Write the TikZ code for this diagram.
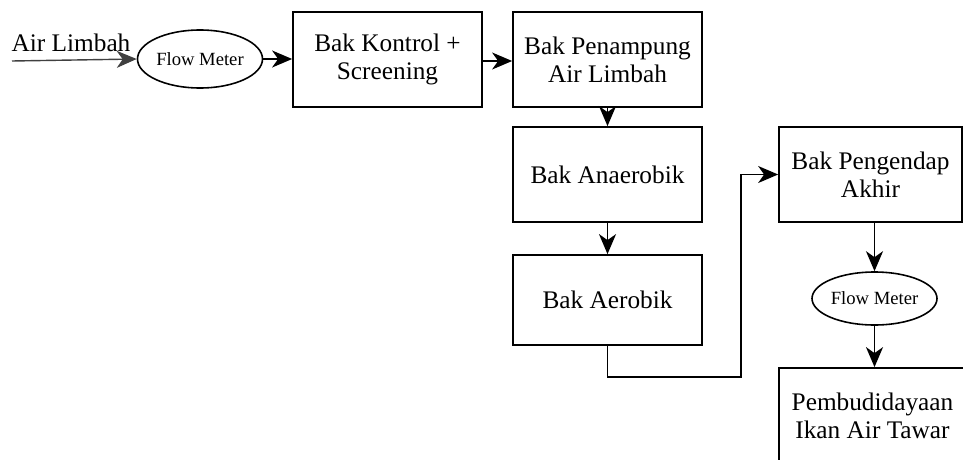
\documentclass[tikz,border=0pt]{standalone}
\usepackage{fontspec}
\setmainfont{Liberation Serif}
\usetikzlibrary{arrows.meta, positioning, shapes.geometric}

\begin{document}
\begin{tikzpicture}[
    block/.style={rectangle, draw, line width=1pt, minimum width=3.78cm, minimum height=1.9cm, align=center, font=\fontsize{14.4}{16}\selectfont},
    meter/.style={ellipse, draw, line width=0.9pt, minimum width=2.5cm, minimum height=1.1cm, inner sep=0pt, font=\fontsize{10.6}{12}\selectfont},
    arrow/.style={-{Stealth[length=4mm, width=3.4mm, inset=1.2mm]}, line width=1pt},
    label/.style={font=\fontsize{14.4}{16}\selectfont},
]

% Frame
\useasboundingbox (0,0) rectangle (19.26,-9.18);
\clip (0,0) rectangle (19.26,-9.18);

% Inlet
\node[label, inner sep=0pt] (inlet) at (1.42, -0.86) {Air Limbah};
\coordinate (src) at (0.24, -1.22);
\node[meter, minimum height=1.16cm] (fm1) at (4.0, -1.18) {Flow Meter};

% Treatment line
\node[block] (kontrol) at (7.75, -1.19) {Bak Kontrol +\\Screening};
\node[block] (tampung) at (12.15, -1.19) {Bak Penampung\\Air Limbah};
\node[block] (anaerob) at (12.15, -3.49) {Bak Anaerobik};
\node[block, minimum height=1.8cm] (aerob) at (12.15, -6.0) {Bak Aerobik};

% Outlet
\node[block, minimum width=3.66cm] (endap) at (17.41, -3.49) {Bak Pengendap\\Akhir};
\node[meter, minimum height=1.06cm] (fm2) at (17.49, -5.97) {Flow Meter};
\node[block, minimum width=3.74cm] (ikan) at (17.45, -8.31) {Pembudidayaan\\Ikan Air Tawar};

\coordinate (turn) at (14.82, -7.54);

\draw[arrow, line width=0.8pt, black!75] (src) -- (fm1.west);
\draw[arrow] (fm1.east) -- (fm1.east -| kontrol.west);
\draw[arrow] (kontrol.east |- 0,-1.22) -- (tampung.west |- 0,-1.22);
\draw[arrow] (tampung) -- (anaerob);
\draw[arrow] (anaerob) -- (aerob);
\draw[arrow] (aerob.south) |- (turn) |- (endap.west);
\draw[arrow] (endap.south -| fm2.north) -- (fm2.north);
\draw[arrow] (fm2.south) -- (fm2.south |- ikan.north);

\end{tikzpicture}
\end{document}
